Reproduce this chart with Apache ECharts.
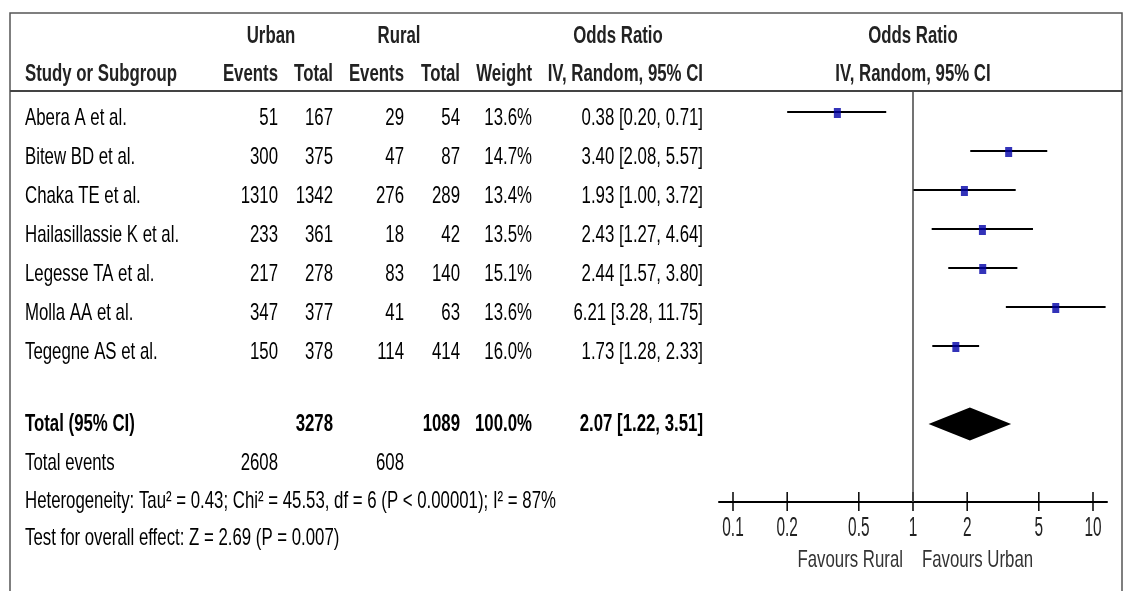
<!DOCTYPE html>
<html><head><meta charset="utf-8">
<script src="https://cdn.jsdelivr.net/npm/echarts@6/dist/echarts.min.js"></script>
<style>html,body{margin:0;padding:0;background:#fff}#c{width:1125px;height:591px}</style>
</head><body><div id="c"></div>
<script>
// ---- data ----
const studies = ['Abera A et al.', 'Bitew BD et al.', 'Chaka TE et al.', 'Hailasillassie K et al.', 'Legesse TA et al.', 'Molla AA et al.', 'Tegegne AS et al.'];
const urbanEvents = [51, 300, 1310, 233, 217, 347, 150];
const urbanTotal = [167, 375, 1342, 361, 278, 377, 378];
const ruralEvents = [29, 47, 276, 18, 83, 41, 114];
const ruralTotal = [54, 87, 289, 42, 140, 63, 414];
const weights = ['13.6%', '14.7%', '13.4%', '13.5%', '15.1%', '13.6%', '16.0%'];
const orValues = [0.38, 3.40, 1.93, 2.43, 2.44, 6.21, 1.73];
const ciLow = [0.20, 2.08, 1.00, 1.27, 1.57, 3.28, 1.28];
const ciHigh = [0.71, 5.57, 3.72, 4.64, 3.80, 11.75, 2.33];
const totalUrban = 3278;
const totalRural = 1089;
const totalWeight = '100.0%';
const pooledOR = 2.07, pooledLow = 1.22, pooledHigh = 3.51;
const totalEventsUrban = 2608, totalEventsRural = 608;
const heterogeneityText = 'Heterogeneity: Tau\u00B2 = 0.43; Chi\u00B2 = 45.53, df = 6 (P < 0.00001); I\u00B2 = 87%';
const overallText = 'Test for overall effect: Z = 2.69 (P = 0.007)';
const tickValues = [0.1, 0.2, 0.5, 1, 2, 5, 10];
const tickLabels = ['0.1', '0.2', '0.5', '1', '2', '5', '10'];
const favourLeft = 'Favours Rural', favourRight = 'Favours Urban';

// ---- layout/style ----
const FAM = '"Liberation Sans", Arial, sans-serif';
const REG = '24px ' + FAM, BOLD = 'bold 24px ' + FAM, TICKF = '28px ' + FAM;
const SX = 0.7;
const COL = {name: 25, uE: 278, uT: 333, rE: 404, rT: 460, w: 532, or: 703};
const fmt2 = v => v.toFixed(2);
const orText = i => fmt2(orValues[i]) + ' [' + fmt2(ciLow[i]) + ', ' + fmt2(ciHigh[i]) + ']';

function txt(text, x, y, align, font, fill) {
  return {type: 'text', x: x, y: y, scaleX: SX, silent: true,
    style: {text: String(text), x: 0, y: 0, font: font || REG, textAlign: align || 'left', textVerticalAlign: 'middle', fill: fill || '#000'}};
}

const graphics = [
  {type: 'rect', silent: true, shape: {x: 10, y: 13, width: 1112, height: 620}, style: {fill: 'none', stroke: '#555', lineWidth: 1.5}},
  {type: 'line', silent: true, shape: {x1: 10, y1: 91, x2: 1122, y2: 91}, style: {stroke: '#444', lineWidth: 2}},
  txt('Urban', 271, 36, 'center', BOLD, '#222'),
  txt('Rural', 399, 36, 'center', BOLD, '#222'),
  txt('Odds Ratio', 618, 36, 'center', BOLD, '#222'),
  txt('Odds Ratio', 913, 36, 'center', BOLD, '#222'),
  txt('Study or Subgroup', COL.name, 74, 'left', BOLD, '#222'),
  txt('Events', COL.uE, 74, 'right', BOLD, '#222'),
  txt('Total', COL.uT, 74, 'right', BOLD, '#222'),
  txt('Events', COL.rE, 74, 'right', BOLD, '#222'),
  txt('Total', COL.rT, 74, 'right', BOLD, '#222'),
  txt('Weight', COL.w, 74, 'right', BOLD, '#222'),
  txt('IV, Random, 95% CI', COL.or, 74, 'right', BOLD, '#222'),
  txt('IV, Random, 95% CI', 913, 74, 'center', BOLD, '#222'),
  txt('Total (95% CI)', COL.name, 424, 'left', BOLD),
  txt(totalUrban, COL.uT, 424, 'right', BOLD),
  txt(totalRural, COL.rT, 424, 'right', BOLD),
  txt(totalWeight, COL.w, 424, 'right', BOLD),
  txt(fmt2(pooledOR) + ' [' + fmt2(pooledLow) + ', ' + fmt2(pooledHigh) + ']', COL.or, 424, 'right', BOLD),
  txt('Total events', COL.name, 463, 'left'),
  txt(totalEventsUrban, COL.uE, 463, 'right'),
  txt(totalEventsRural, COL.rE, 463, 'right'),
  txt(heterogeneityText, COL.name, 501, 'left'),
  txt(overallText, COL.name, 538, 'left'),
  txt(favourLeft, 903, 560, 'right', REG, '#333'),
  txt(favourRight, 922, 560, 'left', REG, '#333')
];

const chart = echarts.init(document.getElementById('c'), null, {renderer: 'canvas'});
const TOTAL_ROW = 8;
chart.setOption({
  animation: false,
  backgroundColor: '#fff',
  grid: {left: 719, right: 18, top: 91, bottom: 89, containLabel: false},
  xAxis: {type: 'log', logBase: 10, position: 'bottom',
    min: Math.pow(10, -1 - 14 / 180), max: Math.pow(10, 1 + 14 / 180),
    axisLine: {show: true, onZero: false, lineStyle: {color: '#000', width: 2}},
    axisTick: {show: false}, axisLabel: {show: false}, splitLine: {show: false}},
  yAxis: {type: 'value', inverse: true, min: -21 / 39, max: 10, show: false},
  graphic: graphics,
  series: [
    {
      name: 'CI', type: 'custom', clip: false,
      data: studies.map((s, i) => [ciLow[i], ciHigh[i], i]),
      encode: {x: [0, 1], y: 2},
      renderItem: function (params, api) {
        const a = api.coord([api.value(0), api.value(2)]);
        const b = api.coord([api.value(1), api.value(2)]);
        return {type: 'line', shape: {x1: a[0], y1: a[1], x2: b[0], y2: b[1]}, style: {stroke: '#000', lineWidth: 2}};
      },
      markLine: {silent: true, symbol: ['none', 'none'], label: {show: false},
        lineStyle: {color: '#444', width: 1.5, type: 'solid'}, data: [{xAxis: 1}]}
    },
    {
      name: 'OR', type: 'scatter', symbol: 'rect', symbolSize: [7, 10], symbolOffset: [0, 1],
      itemStyle: {color: '#0000a8'},
      data: studies.map((s, i) => [orValues[i], i])
    },
    {
      name: 'Pooled', type: 'custom', clip: false,
      data: [[pooledLow, pooledHigh, pooledOR, TOTAL_ROW]],
      renderItem: function (params, api) {
        const y = api.value(3), h = 0.42;
        const pts = [
          api.coord([api.value(0), y]), api.coord([api.value(2), y - h]),
          api.coord([api.value(1), y]), api.coord([api.value(2), y + h])
        ];
        return {type: 'polygon', shape: {points: pts}, style: {fill: '#000'}};
      }
    },
    {
      name: 'Ticks', type: 'custom', clip: false,
      data: tickValues.map((v, i) => [v, i]),
      renderItem: function (params, api) {
        const p = api.coord([api.value(0), 10]);
        return {type: 'group', children: [
          {type: 'line', shape: {x1: p[0], y1: p[1] - 10, x2: p[0], y2: p[1] + 9}, style: {stroke: '#000', lineWidth: 1.5}},
          {type: 'text', x: p[0], y: p[1] + 26, scaleX: 0.55,
            style: {text: tickLabels[api.value(1)], x: 0, y: 0, font: TICKF, textAlign: 'center', textVerticalAlign: 'middle', fill: '#222'}}
        ]};
      }
    },
    {
      name: 'Table', type: 'custom', clip: false,
      data: studies.map((s, i) => [1, i]),
      renderItem: function (params, api) {
        const i = api.value(1);
        const y = api.coord([1, i])[1] + 6;
        const mk = (t, x, al) => ({type: 'text', x: x, y: y, scaleX: SX,
          style: {text: String(t), x: 0, y: 0, font: REG, textAlign: al, textVerticalAlign: 'middle', fill: '#000'}});
        return {type: 'group', children: [
          mk(studies[i], COL.name, 'left'),
          mk(urbanEvents[i], COL.uE, 'right'),
          mk(urbanTotal[i], COL.uT, 'right'),
          mk(ruralEvents[i], COL.rE, 'right'),
          mk(ruralTotal[i], COL.rT, 'right'),
          mk(weights[i], COL.w, 'right'),
          mk(orText(i), COL.or, 'right')
        ]};
      }
    }
  ]
});
</script></body></html>
